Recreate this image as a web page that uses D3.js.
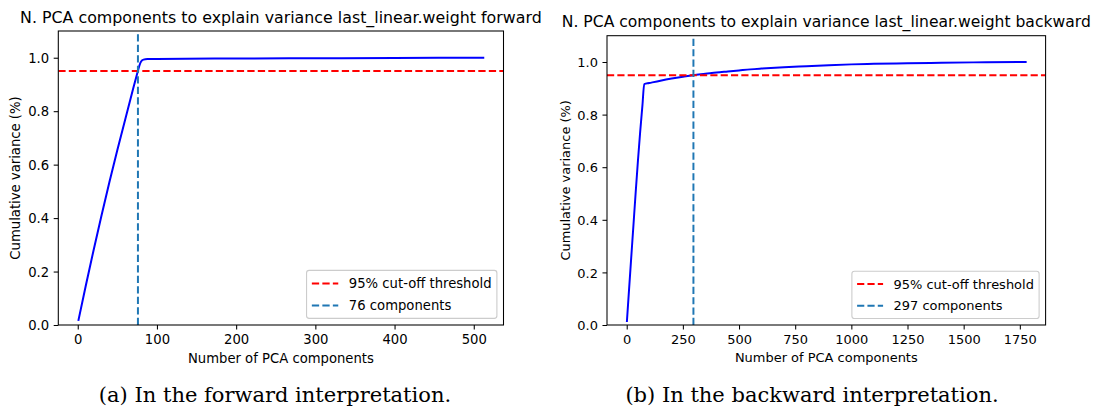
<!DOCTYPE html>
<html>
<head>
<meta charset="utf-8">
<script src="https://cdn.jsdelivr.net/npm/d3@7"></script>
<style>
  html, body { margin: 0; padding: 0; background: #ffffff; }
  svg { display: block; }
</style>
</head>
<body>
<svg id="chart" width="1095" height="410"></svg>
<script>
// ---------------- data ----------------
const fwdX = [1, 10, 20, 30, 40, 50, 60, 70, 76, 78, 80, 83, 88, 100, 200, 300, 400, 512];
const fwdY = [0.019, 0.145, 0.28, 0.41, 0.535, 0.655, 0.77, 0.885, 0.951, 0.972, 0.986, 0.993, 0.995, 0.9955, 0.997, 0.998, 0.999, 1.0];
const fwdComponents = 76;

const bwdX = [1, 10, 20, 30, 40, 50, 60, 70, 78, 100, 150, 200, 250, 297, 350, 400, 450, 500, 550, 600, 700, 800, 900, 1000, 1100, 1250, 1400, 1600, 1776];
const bwdY = [0.015, 0.13, 0.255, 0.38, 0.505, 0.625, 0.735, 0.835, 0.916, 0.92, 0.929, 0.937, 0.944, 0.95, 0.955, 0.96, 0.964, 0.968, 0.972, 0.975, 0.98, 0.984, 0.988, 0.991, 0.993, 0.995, 0.997, 0.999, 1.0];
const bwdComponents = 297;

const threshold = 0.95;
const fwdXTicks = [0, 100, 200, 300, 400, 500];
const bwdXTicks = [0, 250, 500, 750, 1000, 1250, 1500, 1750];
const yTicks = [0.0, 0.2, 0.4, 0.6, 0.8, 1.0];

const fwdTitle = "N. PCA components to explain variance last_linear.weight forward";
const bwdTitle = "N. PCA components to explain variance last_linear.weight backward";
const xLabel = "Number of PCA components";
const yLabel = "Cumulative variance (%)";
const legendThreshold = "95% cut-off threshold";
const fwdCaption = "(a) In the forward interpretation.";
const bwdCaption = "(b) In the backward interpretation.";

// ---------------- drawing ----------------
const svg = d3.select("#chart");
const FONT = "'DejaVu Sans', sans-serif";

function panel(cfg) {
  const s = cfg.s;
  const fs = 13.2 * s;          // 10pt
  const tfs = 15.84 * s;        // 12pt
  const tick = 4.6 * s, pad = 4.6 * s;
  const lw = 2.0 * s;
  const dash = `${7.3 * s},${3.2 * s}`;

  const xMin = d3.min(cfg.x), xMax = d3.max(cfg.x);
  const m = 0.05 * (xMax - xMin);
  const x = d3.scaleLinear().domain([xMin - m, xMax + m]).range([cfg.left, cfg.right]);
  const y = d3.scaleLinear().domain([0, 1.1]).range([cfg.bottom, cfg.top]);

  const g = svg.append("g");
  const clipId = "clip" + cfg.id;
  g.append("clipPath").attr("id", clipId).append("rect")
    .attr("x", cfg.left).attr("y", cfg.top)
    .attr("width", cfg.right - cfg.left).attr("height", cfg.bottom - cfg.top);

  const plot = g.append("g").attr("clip-path", `url(#${clipId})`);
  const pts = cfg.x.map((d, i) => [d, cfg.y[i]]);
  plot.append("path")
    .datum(pts)
    .attr("d", d3.line().x(d => x(d[0])).y(d => y(d[1])).curve(d3.curveMonotoneX))
    .attr("fill", "none").attr("stroke", "#0000ff").attr("stroke-width", lw)
    .attr("stroke-linejoin", "round").attr("stroke-linecap", "square");

  plot.append("line")
    .attr("x1", cfg.left).attr("x2", cfg.right)
    .attr("y1", y(threshold)).attr("y2", y(threshold))
    .attr("stroke", "#ff0000").attr("stroke-width", lw).attr("stroke-dasharray", dash);
  plot.append("line")
    .attr("x1", x(cfg.comp)).attr("x2", x(cfg.comp))
    .attr("y1", cfg.bottom).attr("y2", cfg.top)
    .attr("stroke", "#1f77b4").attr("stroke-width", lw).attr("stroke-dasharray", dash);

  // axes
  const xAxis = d3.axisBottom(x).tickValues(cfg.xTicks).tickSize(tick).tickPadding(pad)
    .tickFormat(d3.format("d"));
  const gx = g.append("g").attr("transform", `translate(0,${cfg.bottom})`).call(xAxis);
  const yAxis = d3.axisLeft(y).tickValues(yTicks).tickSize(tick).tickPadding(pad)
    .tickFormat(d3.format(".1f"));
  const gy = g.append("g").attr("transform", `translate(${cfg.left},0)`).call(yAxis);
  [gx, gy].forEach(a => {
    a.select(".domain").remove();
    a.selectAll(".tick line").attr("stroke", "#000").attr("stroke-width", 1.06 * s);
    a.selectAll(".tick text").attr("fill", "#000").style("font-family", FONT).style("font-size", fs + "px");
  });
  gy.selectAll(".tick text").attr("dy", "0.36em");
  gx.selectAll(".tick text").attr("dy", "0.78em");

  // frame
  g.append("rect")
    .attr("x", cfg.left).attr("y", cfg.top)
    .attr("width", cfg.right - cfg.left).attr("height", cfg.bottom - cfg.top)
    .attr("fill", "none").attr("stroke", "#000").attr("stroke-width", 1.06 * s);

  // title
  g.append("text")
    .attr("x", (cfg.left + cfg.right) / 2).attr("y", cfg.top - 8.4 * s)
    .attr("text-anchor", "middle")
    .style("font-family", FONT).style("font-size", tfs + "px")
    .text(cfg.title);

  // axis labels
  g.append("text")
    .attr("x", (cfg.left + cfg.right) / 2).attr("y", cfg.bottom + 38 * s)
    .attr("text-anchor", "middle")
    .style("font-family", FONT).style("font-size", fs + "px")
    .text(xLabel);
  g.append("text")
    .attr("transform", `translate(${cfg.ylabX},${(cfg.top + cfg.bottom) / 2}) rotate(-90)`)
    .attr("text-anchor", "middle").attr("dy", "0.36em")
    .style("font-family", FONT).style("font-size", fs + "px")
    .text(yLabel);

  // legend
  const items = [
    { label: legendThreshold, color: "#ff0000" },
    { label: cfg.comp + " components", color: "#1f77b4" }
  ];
  const bp = 5.3 * s, hl = 26.4 * s, htp = 10.6 * s, ls = 6.6 * s, rowH = 15.4 * s;
  const tmp = g.append("text").style("font-family", FONT).style("font-size", fs + "px").text(items[0].label);
  const tw = d3.max(items, it => { tmp.text(it.label); return tmp.node().getComputedTextLength(); });
  tmp.remove();
  const lgW = bp * 2 + hl + htp + tw;
  const lgH = bp * 2 + rowH * 2 + ls;
  const lgX = cfg.right - 6.6 * s - lgW;
  const lgY = cfg.bottom - 6.6 * s - lgH;
  const lg = g.append("g");
  lg.append("rect")
    .attr("x", lgX).attr("y", lgY).attr("width", lgW).attr("height", lgH)
    .attr("rx", 2.6 * s).attr("ry", 2.6 * s)
    .attr("fill", "#ffffff").attr("fill-opacity", 0.8)
    .attr("stroke", "#cccccc").attr("stroke-width", 1.1 * s);
  items.forEach((it, i) => {
    const cy = lgY + bp + rowH / 2 + i * (rowH + ls);
    lg.append("line")
      .attr("x1", lgX + bp).attr("x2", lgX + bp + hl)
      .attr("y1", cy).attr("y2", cy)
      .attr("stroke", it.color).attr("stroke-width", lw).attr("stroke-dasharray", dash);
    lg.append("text")
      .attr("x", lgX + bp + hl + htp).attr("y", cy).attr("dy", "0.36em")
      .style("font-family", FONT).style("font-size", fs + "px")
      .text(it.label);
  });

  // caption
  g.append("text")
    .attr("x", cfg.capX).attr("y", 402)
    .attr("text-anchor", "middle")
    .style("font-family", "'DejaVu Serif', serif").style("font-size", "21px")
    .text(cfg.caption);
}

panel({
  id: "a", s: 1.0, left: 58.3, right: 503.5, top: 31, bottom: 325, ylabX: 15,
  x: fwdX, y: fwdY, comp: fwdComponents, xTicks: fwdXTicks,
  title: fwdTitle, caption: fwdCaption, capX: 275
});
panel({
  id: "b", s: 0.984, left: 607, right: 1045.6, top: 35.7, bottom: 325, ylabX: 565,
  x: bwdX, y: bwdY, comp: bwdComponents, xTicks: bwdXTicks,
  title: bwdTitle, caption: bwdCaption, capX: 812
});
</script>
</body>
</html>
